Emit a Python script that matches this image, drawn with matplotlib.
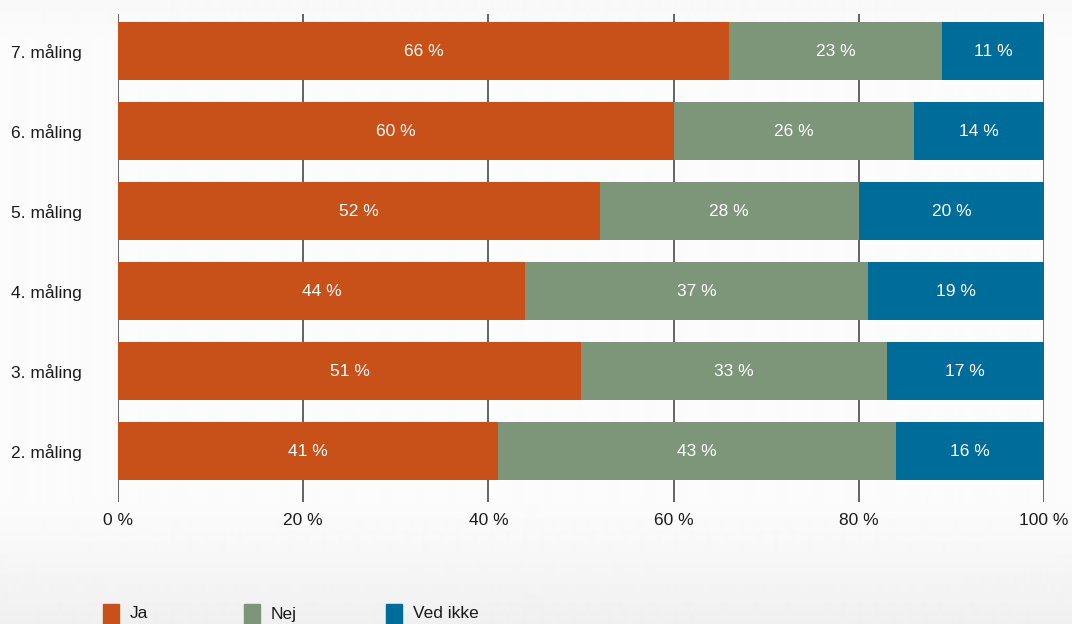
import matplotlib
matplotlib.use("Agg")
import matplotlib.pyplot as plt
import numpy as np
from matplotlib.patches import Rectangle

categories = ["2. måling", "3. måling", "4. måling", "5. måling", "6. måling", "7. måling"]
series_names = ["Ja", "Nej", "Ved ikke"]
ja = [41, 50, 44, 52, 60, 66]
nej = [43, 33, 37, 28, 26, 23]
ved_ikke = [16, 17, 19, 20, 14, 11]
ja_labels = ["41 %", "51 %", "44 %", "52 %", "60 %", "66 %"]
nej_labels = ["43 %", "33 %", "37 %", "28 %", "26 %", "23 %"]
ved_labels = ["16 %", "17 %", "19 %", "20 %", "14 %", "11 %"]
xticks = [0, 20, 40, 60, 80, 100]
xtick_labels = ["0 %", "20 %", "40 %", "60 %", "80 %", "100 %"]

colors = ["#C8511A", "#7D967A", "#006C9A"]

plt.rcParams['font.family'] = ['Liberation Sans', 'DejaVu Sans']

W, H = 1072, 624
fig = plt.figure(figsize=(W / 100, H / 100), dpi=100)
fig.patch.set_facecolor("white")

# subtle background gradient (smooth)
bg = fig.add_axes([0, 0, 1, 1], zorder=-10)
ys = np.arange(H, dtype=float)
vals_bg = 0.985 - 0.045 * np.clip((ys - 500) / 124, 0, 1) ** 1.2
vals_bg -= 0.012 * np.clip((40 - ys) / 40, 0, 1)
grad = vals_bg.reshape(-1, 1)
bg.imshow(grad, aspect='auto', cmap='gray', vmin=0, vmax=1, extent=[0, 1, 0, 1],
          interpolation='bilinear')
bg.axis('off')

# axes: x 118..1044 px, y 14..502 px
ax = fig.add_axes([118 / W, (H - 502) / H, (1044 - 118) / W, (502 - 14) / H])
ax.patch.set_alpha(0)
y = np.arange(len(categories))
h = 0.725
ax.set_xlim(0, 100)
ax.set_ylim(-0.6375, 5.4625)

for xt in xticks:
    ax.axvline(xt, color="#3a3a3a", lw=1.1, zorder=0)

left = np.zeros(len(categories))
for vals, labs, c in zip([ja, nej, ved_ikke], [ja_labels, nej_labels, ved_labels], colors):
    vals = np.array(vals, dtype=float)
    ax.barh(y, vals, left=left, height=h, color=c, zorder=2)
    for yi, l, v, t in zip(y, left, vals, labs):
        ax.text(l + v / 2, yi, t, ha="center", va="center", color="white",
                fontsize=12.5, zorder=3)
    left = left + vals

for s in ax.spines.values():
    s.set_visible(False)
ax.set_yticks(y)
ax.set_yticklabels(categories, fontsize=12.5, color="#1a1a1a")
ax.set_xticks(xticks)
ax.set_xticklabels(xtick_labels, fontsize=12.5, color="#1a1a1a")
ax.tick_params(axis="y", length=0, pad=26)
ax.tick_params(axis="x", length=0, pad=8)

# legend at bottom
leg_x = [103, 244, 386]
for xp, name, c in zip(leg_x, series_names, colors):
    fig.add_artist(Rectangle((xp / W, 0), 16 / W, 20 / H, transform=fig.transFigure,
                             color=c, zorder=5))
    fig.text((xp + 27) / W, 10 / H, name, fontsize=12.5, va="center", ha="left",
             color="#1a1a1a")

fig.savefig("out.png", dpi=100)
